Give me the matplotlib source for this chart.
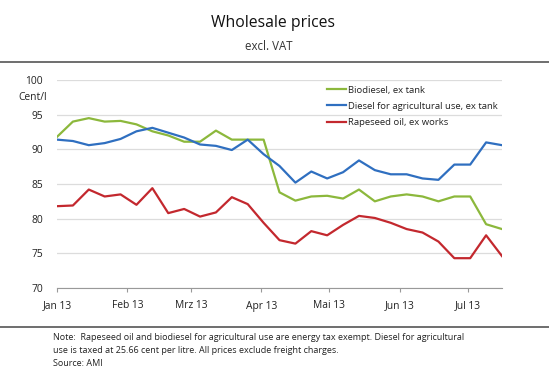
import pandas as pd
import matplotlib.pyplot as plt
from matplotlib.lines import Line2D

plt.rcParams["font.family"] = ["Open Sans", "DejaVu Sans"]

dates = pd.date_range("2013-01-01", periods=29, freq="7D")

biodiesel = [91.8, 94.0, 94.5, 94.0, 94.1, 93.6, 92.6, 92.0, 91.1, 91.1,
             92.7, 91.4, 91.4, 91.4, 83.8, 82.6, 83.2, 83.3, 82.9, 84.2,
             82.5, 83.2, 83.5, 83.2, 82.5, 83.2, 83.2, 79.2, 78.5]
diesel = [91.4, 91.2, 90.6, 90.9, 91.5, 92.6, 93.1, 92.4, 91.7, 90.7,
          90.5, 89.9, 91.4, 89.3, 87.6, 85.2, 86.8, 85.8, 86.7, 88.4,
          87.0, 86.4, 86.4, 85.8, 85.6, 87.8, 87.8, 91.0, 90.6]
rapeseed = [81.8, 81.9, 84.2, 83.2, 83.5, 82.0, 84.4, 80.8, 81.4, 80.3,
            80.9, 83.1, 82.1, 79.4, 76.9, 76.4, 78.2, 77.6, 79.1, 80.4,
            80.1, 79.4, 78.5, 78.0, 76.7, 74.3, 74.3, 77.6, 74.6]

series_names = ["Biodiesel, ex tank",
                "Diesel for agricultural use, ex tank",
                "Rapeseed oil, ex works"]
colors = ["#8cb83c", "#2f6fc0", "#c3282e"]
month_labels = ["Jan 13", "Feb 13", "Mrz 13", "Apr 13", "Mai 13", "Jun 13", "Jul 13"]

fig = plt.figure(figsize=(5.49, 3.76), dpi=100)
ax = fig.add_axes([57 / 549, 1 - 288 / 376, 445 / 549, 208 / 376])

for vals, c, name in zip([biodiesel, diesel, rapeseed], colors, series_names):
    ax.plot(dates, vals, color=c, lw=1.6, label=name, zorder=3)

ax.set_ylim(70, 100)
ax.set_xlim(dates[0], dates[-1])
ax.set_yticks(range(70, 101, 5))
ax.grid(axis="y", color="#dcdcdc", lw=0.9)
ax.set_axisbelow(True)

months = pd.date_range("2013-01-01", periods=7, freq="MS")
ax.set_xticks(months)
ax.set_xticklabels(month_labels)
ax.tick_params(axis="x", length=3, color="#999999", labelsize=7.4, pad=6, labelcolor="#222222")
ax.tick_params(axis="y", length=0, labelsize=7.4, pad=10, labelcolor="#222222")

for s in ["top", "right", "left"]:
    ax.spines[s].set_visible(False)
ax.spines["bottom"].set_color("#999999")
ax.spines["bottom"].set_linewidth(0.8)

fig.text(47 / 549, 1 - 97 / 376, "Cent/l", ha="right", va="center", fontsize=7.4, color="#222222")

handles = [Line2D([0], [0], color=c, lw=1.6) for c in colors]
leg = ax.legend(handles, series_names, loc="upper left", bbox_to_anchor=(0.595, 1.0),
                frameon=False, fontsize=6.8, handlelength=2.0, handletextpad=0.2,
                labelspacing=0.75, borderaxespad=0.2)
for t in leg.get_texts():
    t.set_color("#222222")

fig.text(0.497, 1 - 23 / 376, "Wholesale prices", ha="center", va="center", fontsize=11.3, color="#111111")
fig.text(0.49, 1 - 46 / 376, "excl. VAT", ha="center", va="center", fontsize=8.3, color="#333333")

fig.add_artist(Line2D([0, 1], [1 - 62 / 376] * 2, color="#555555", lw=1.2))
fig.add_artist(Line2D([0, 1], [1 - 327 / 376] * 2, color="#555555", lw=1.2))

notes = ["Note:  Rapeseed oil and biodiesel for agricultural use are energy tax exempt. Diesel for agricultural",
         "use is taxed at 25.66 cent per litre. All prices exclude freight charges.",
         "Source: AMI"]
for i, line in enumerate(notes):
    fig.text(53 / 549, 1 - (338 + 12.5 * i) / 376, line, ha="left", va="center",
             fontsize=6.5, color="#222222")

plt.savefig("out.png", dpi=100)
